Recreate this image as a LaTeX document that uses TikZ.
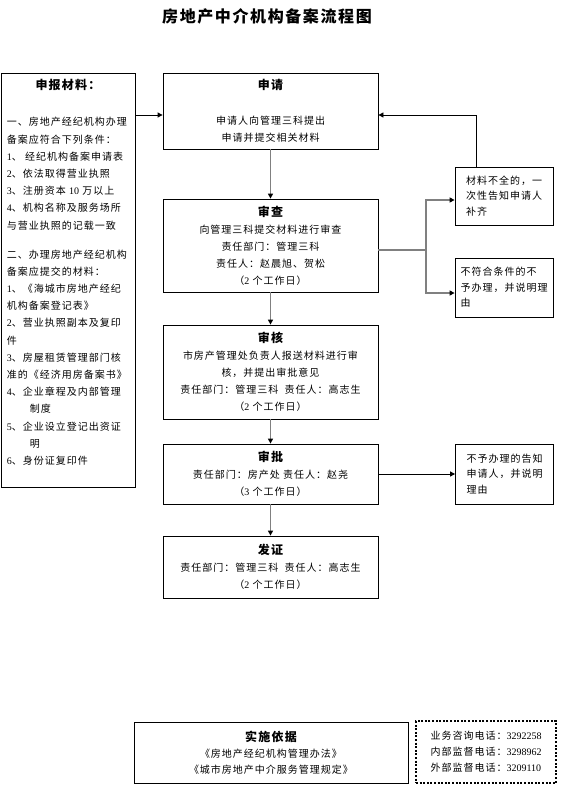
\documentclass[tikz,border=0pt]{standalone}
\usepackage{fontspec}
\setmainfont{Noto Sans CJK SC}[LetterSpace=10]
\newfontfamily\numfont{Liberation Serif}
\newcommand{\dg}[1]{{\numfont #1}}
\usetikzlibrary{arrows.meta}

\tikzset{
  stepbox/.style={draw, line width=0.8pt, minimum width=215pt, align=center,
    font=\fontsize{10}{17}\selectfont, inner sep=0pt},
  notebox/.style={draw, line width=0.8pt, minimum width=98pt, minimum height=59pt,
    align=left, font=\fontsize{10}{15.5}\selectfont, inner sep=0pt},
  grayarrow/.style={draw=black!50, line width=1.6pt,
    -{Triangle[length=5pt,width=5pt,color=black]}},
  blackarrow/.style={draw=black, line width=0.8pt,
    -{Triangle[length=5pt,width=5pt]}},
  grayline/.style={draw=black!50, line width=1.6pt}
}

\begin{document}
\begin{tikzpicture}[x=1pt,y=-1pt]
            \useasboundingbox (0,0) rectangle (560,787);

            \node (title) at (267,16) {\bfseries\fontsize{16}{18}\selectfont 房地产中介机构备案流程图};

            \node[draw, line width=0.8pt, inner sep=0pt, anchor=north west] (matlist) at (0.5,73)
              {\parbox[t][414pt][t]{134pt}{\fontsize{10}{17.2}\selectfont\parindent=0pt\raggedright\leftskip=6pt
                \vspace*{6pt}
                \centerline{\bfseries\fontsize{12}{14}\selectfont 申报材料：}
                \vspace{19pt}
                一、房地产经纪机构办理\\
                备案应符合下列条件：\\
                \dg{1}、~经纪机构备案申请表\\
                \dg{2}、依法取得营业执照\\
                \dg{3}、注册资本~\dg{10}~万以上\\
                \dg{4}、机构名称及服务场所\\
                与营业执照的记载一致\\[11.8pt]
                二、办理房地产经纪机构\\
                备案应提交的材料：\\
                \dg{1}、《海城市房地产经纪\\
                机构备案登记表》\\
                \dg{2}、营业执照副本及复印\\
                件\\
                \dg{3}、房屋租赁管理部门核\\
                准的《经济用房备案书》\\
                \dg{4}、企业章程及内部管理\\
                \hspace*{23pt}制度\\
                \dg{5}、企业设立登记出资证\\
                \hspace*{23pt}明\\
                \dg{6}、身份证复印件}};

            \node[stepbox, minimum height=76pt] (shenqing) at (270.5,111)
              {{\bfseries\fontsize{12}{17}\selectfont 申请}\\[18pt]
               申请人向管理三科提出\\
               申请并提交相关材料};
            \node[stepbox, minimum height=93pt] (shencha) at (270.5,245.5)
              {{\bfseries\fontsize{12}{17}\selectfont 审查}\\
               向管理三科提交材料进行审查\\
               责任部门：管理三科\\
               责任人：赵晨旭、贺松\\
               （\dg{2}~个工作日）};
            \node[stepbox, minimum height=94pt] (shenhe) at (270.5,372)
              {{\bfseries\fontsize{12}{17}\selectfont 审核}\\
               市房产管理处负责人报送材料进行审\\
               核，并提出审批意见\\
               责任部门：管理三科~~责任人：高志生\\
               （\dg{2}~个工作日）};
            \node[stepbox, minimum height=60pt] (shenpi) at (270.5,474)
              {{\bfseries\fontsize{12}{17}\selectfont 审批}\\
               责任部门：房产处~责任人：赵尧\\
               （\dg{3}~个工作日）};
            \node[stepbox, minimum height=62pt] (fazheng) at (270.5,567)
              {{\bfseries\fontsize{12}{17}\selectfont 发证}\\
               责任部门：管理三科~~责任人：高志生\\
               （\dg{2}~个工作日）};

            \node[notebox, minimum height=58pt] (buquan) at (504,196)
              {材料不全的，一\\次性告知申请人\\补齐};
            \node[notebox] (bufuhe) at (504,287.5)
              {不符合条件的不\\予办理，并说明理\\由};
            \node[notebox, minimum height=60pt] (buyu) at (504.5,474)
              {不予办理的告知\\申请人，并说明\\理由};

            \node[stepbox, minimum width=274pt, minimum height=61pt] (yiju) at (271,752.5)
              {{\bfseries\fontsize{12}{17}\selectfont 实施依据}\\[-1pt]
               《房地产经纪机构管理办法》\\[-1pt]
               《城市房地产中介服务管理规定》};
            \node[draw, line width=2pt, dash pattern=on 2pt off 1.6pt, minimum width=140pt,
              minimum height=62pt, align=left, inner sep=0pt,
              font=\fontsize{10}{16}\selectfont] (dianhua) at (486,752)
              {业务咨询电话：\dg{3292258}\\
               内部监督电话：\dg{3298962}\\
               外部监督电话：\dg{3209110}};

            \coordinate (fork) at (426,250);

            \draw[blackarrow] (matlist.east |- 0,115) -- ([yshift=-4pt]shenqing.west);
            \draw[blackarrow] ([xshift=-28pt]buquan.north) |- ([yshift=-4pt]shenqing.east);

            \draw[grayarrow] (shenqing) -- (shencha);
            \draw[grayarrow] (shencha) -- (shenhe);
            \draw[grayarrow] (shenhe) -- (shenpi);
            \draw[grayarrow] (shenpi) -- (fazheng);

            \draw[grayline] ([yshift=-4.5pt]shencha.east) -- (fork);
            \draw[grayarrow] (fork) |- ([yshift=-4pt]buquan.west);
            \draw[grayarrow] (fork) |- ([yshift=-5.5pt]bufuhe.west);
            \draw[blackarrow] (shenpi) -- (buyu);
        \end{tikzpicture}
\end{document}
